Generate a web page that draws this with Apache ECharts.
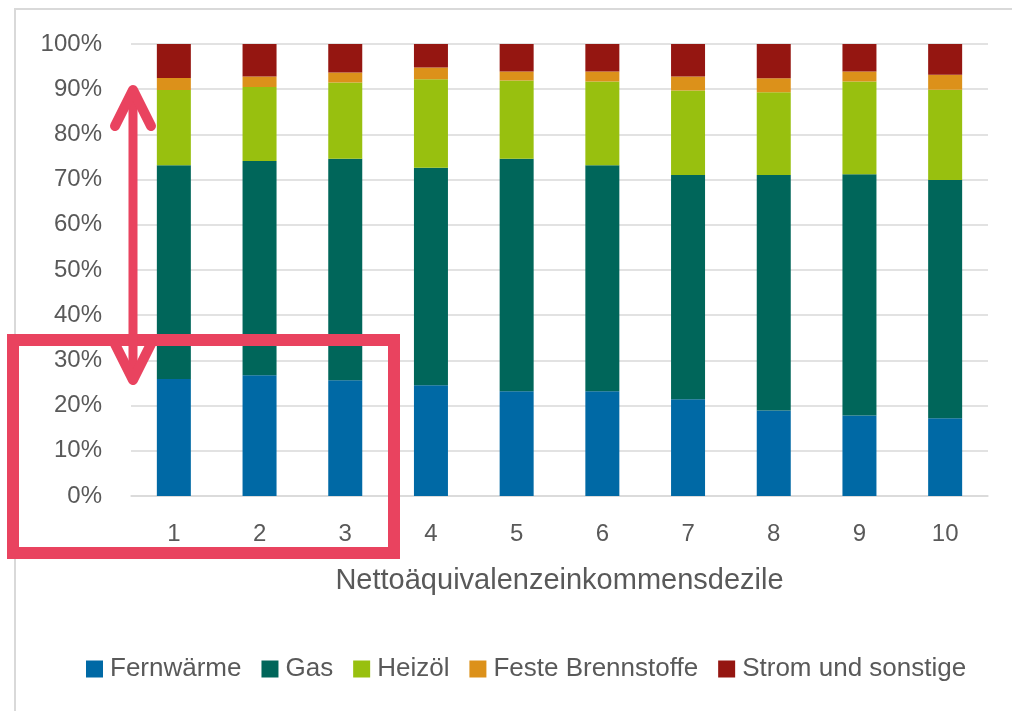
<!DOCTYPE html>
<html>
<head>
<meta charset="utf-8">
<script src="https://cdn.jsdelivr.net/npm/echarts@6/dist/echarts.min.js"></script>
<style>
html,body{margin:0;padding:0;background:#fff;}
#chart{width:1012px;height:711px;}
</style>
</head>
<body>
<div id="chart"></div>
<script>
var categories = ['1','2','3','4','5','6','7','8','9','10'];
var fernwaerme = [25.9, 26.7, 25.6, 24.5, 23.2, 23.2, 21.4, 18.9, 17.8, 17.2];
var gas        = [47.3, 47.4, 49.0, 48.1, 51.4, 50.0, 49.6, 52.1, 53.4, 52.7];
var heizoel    = [16.6, 16.4, 16.9, 19.6, 17.3, 18.5, 18.7, 18.3, 20.5, 20.0];
var feste      = [2.7, 2.3, 2.2, 2.6, 2.0, 2.2, 3.1, 3.1, 2.2, 3.3];
var strom      = [7.5, 7.2, 6.3, 5.2, 6.1, 6.1, 7.2, 7.6, 6.1, 6.8];
var seriesNames = ['Fernwärme', 'Gas', 'Heizöl', 'Feste Brennstoffe', 'Strom und sonstige'];
var colors = ['#0069A5', '#00665A', '#98C00F', '#DC911A', '#951611'];
var axisTitle = 'Nettoäquivalenzeinkommensdezile';

var values = [fernwaerme, gas, heizoel, feste, strom];
var font = '"Liberation Sans", Arial, sans-serif';
var pink = '#E9435F';

var chart = echarts.init(document.getElementById('chart'), null, {renderer: 'canvas'});
chart.setOption({
  animation: false,
  backgroundColor: '#fff',
  color: colors,
  grid: {left: 131, right: 24, top: 44, bottom: 215, containLabel: false},
  legend: {
    left: 86, top: 656, padding: 0,
    itemWidth: 17, itemHeight: 17, itemGap: 20,
    icon: 'rect',
    textStyle: {fontFamily: font, fontSize: 26, color: '#595959', padding: [0,0,0,2]},
    data: seriesNames
  },
  xAxis: {
    type: 'category',
    data: categories,
    axisLine: {show: true, lineStyle: {color: '#D9D9D9', width: 1.5}},
    axisTick: {show: false},
    axisLabel: {fontFamily: font, fontSize: 24, color: '#595959', margin: 26},
    name: axisTitle,
    nameLocation: 'middle',
    nameGap: 70,
    nameTextStyle: {fontFamily: font, fontSize: 29, color: '#595959'}
  },
  yAxis: {
    type: 'value',
    min: 0, max: 100, interval: 10,
    axisLine: {show: false},
    axisTick: {show: false},
    splitLine: {lineStyle: {color: '#D9D9D9', width: 1.5}},
    axisLabel: {fontFamily: font, fontSize: 24, color: '#595959', margin: 29, formatter: '{value}%'}
  },
  series: seriesNames.map(function(n, i){
    return {
      name: n, type: 'bar', stack: 'total', barWidth: 34,
      itemStyle: {color: colors[i]},
      data: values[i]
    };
  }),
  graphic: [
    {type: 'rect', z: 100, silent: true, shape: {x: 15, y: 9, width: 1100, height: 900},
     style: {fill: null, stroke: '#D9D9D9', lineWidth: 2}},
    {type: 'rect', z: 110, silent: true, shape: {x: 13, y: 340, width: 381, height: 213},
     style: {fill: null, stroke: pink, lineWidth: 12}},
    {type: 'line', z: 110, silent: true, shape: {x1: 133, y1: 92, x2: 133, y2: 378},
     style: {stroke: pink, lineWidth: 9}},
    {type: 'polyline', z: 110, silent: true, shape: {points: [[115,126],[133,90],[151,126]]},
     style: {fill: null, stroke: pink, lineWidth: 10, lineCap: 'round', lineJoin: 'round'}},
    {type: 'polyline', z: 110, silent: true, shape: {points: [[115,344],[133,380],[151,344]]},
     style: {fill: null, stroke: pink, lineWidth: 10, lineCap: 'round', lineJoin: 'round'}}
  ]
});
</script>
</body>
</html>
